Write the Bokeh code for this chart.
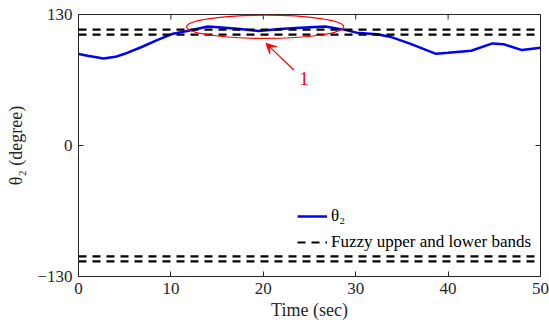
from bokeh.plotting import figure
from bokeh.models import Range1d, Legend, LegendItem, Arrow, VeeHead, FixedTicker
from bokeh.core.properties import value
from bokeh.embed import file_html
from bokeh.resources import INLINE

# data
time = [0, 1, 2.7, 4, 5, 6.9, 8.5, 10.1, 11.9, 14, 15.5, 17.5, 19.5, 21.8, 23.5, 26.7,
        28.7, 30.1, 32.3, 33.7, 35.8, 38.7, 40, 42.5, 44.8, 46, 48, 50]
theta2 = [90.7, 89, 86.4, 88, 91, 98, 104.5, 110.6, 113.9, 118, 117, 115.5, 113.6, 115.6,
          116.5, 118, 115, 112, 110.3, 108, 101.3, 91, 92, 94, 101.3, 100.5, 94.7, 97]
band_levels = [115, 110, -110, -115]
x_ticks = [0, 10, 20, 30, 40, 50]
y_ticks = [-130, 0, 130]

FONT = "'Liberation Serif', 'Times New Roman', serif"
X0, X1, Y0, Y1 = 0, 50, -130, 130

p = figure(width=549, height=328, output_backend="svg", toolbar_location=None,
           x_range=Range1d(X0, X1), y_range=Range1d(Y0, Y1),
           min_border_left=78, min_border_right=9, min_border_top=14, min_border_bottom=52)
p.background_fill_color = "white"
p.border_fill_color = "white"
p.grid.visible = False
p.outline_line_color = "#262626"
p.outline_line_width = 1

for ax in (p.xaxis[0], p.yaxis[0]):
    ax.major_label_text_font = FONT
    ax.major_label_text_font_size = "17px"
    ax.major_label_text_color = "#262626"
    ax.axis_label_text_font = FONT
    ax.axis_label_text_font_size = "18px"
    ax.axis_label_text_font_style = "normal"
    ax.axis_label_text_color = "#262626"
    ax.major_tick_in = 5
    ax.major_tick_out = 0
    ax.minor_tick_line_color = None
    ax.axis_line_color = "#262626"
    ax.major_tick_line_color = "#262626"

p.xaxis[0].ticker = FixedTicker(ticks=x_ticks)
p.yaxis[0].ticker = FixedTicker(ticks=y_ticks)
p.xaxis[0].axis_label = "Time (sec)"
p.yaxis[0].axis_label = "θ₂ (degree)"
p.xaxis[0].major_label_standoff = 6
p.yaxis[0].major_label_standoff = 6
p.xaxis[0].axis_label_standoff = 3
p.yaxis[0].axis_label_standoff = 8

# mirrored ticks on the top and right edges (5 px long inward)
tick_dy = 5 * (Y1 - Y0) / 262.0
tick_dx = 5 * (X1 - X0) / 462.0
p.segment(x0=x_ticks, y0=[Y1] * len(x_ticks), x1=x_ticks, y1=[Y1 - tick_dy] * len(x_ticks),
          line_color="#262626", line_width=1)
p.segment(x0=[X1] * len(y_ticks), y0=y_ticks, x1=[X1 - tick_dx] * len(y_ticks), y1=y_ticks,
          line_color="#262626", line_width=1)

line_r = p.line(time, theta2, line_color="#0000FF", line_width=2.5)
band_rs = []
for lv in band_levels:
    band_rs.append(p.line([X0, X1], [lv, lv], line_color="black", line_width=2.2, line_dash="8 6"))

# annotation
p.ellipse(x=[20.2], y=[117.8], width=[17], height=[23], fill_color=None,
          line_color="red", line_width=1.2)
p.add_layout(Arrow(end=VeeHead(size=10, fill_color="red", line_color="red"),
                   x_start=23.3, y_start=74.9, x_end=20.3, y_end=101.3,
                   line_color="red", line_width=1.2))
p.text(x=[24.4], y=[66.5], text=["1"], text_color="red", text_font=value(FONT),
       text_font_size="18px", text_align="center", text_baseline="middle")

legend = Legend(items=[LegendItem(label="θ₂", renderers=[line_r]),
                       LegendItem(label="Fuzzy upper and lower bands", renderers=[band_rs[0]])],
                location=(219, 24), padding=0, margin=0, spacing=6,
                glyph_width=30, glyph_height=20, label_standoff=4,
                border_line_alpha=0, background_fill_alpha=0,
                label_text_font=FONT, label_text_font_size="17px", label_text_color="black")
p.add_layout(legend)

open("out.html", "w").write(file_html(p, INLINE))
